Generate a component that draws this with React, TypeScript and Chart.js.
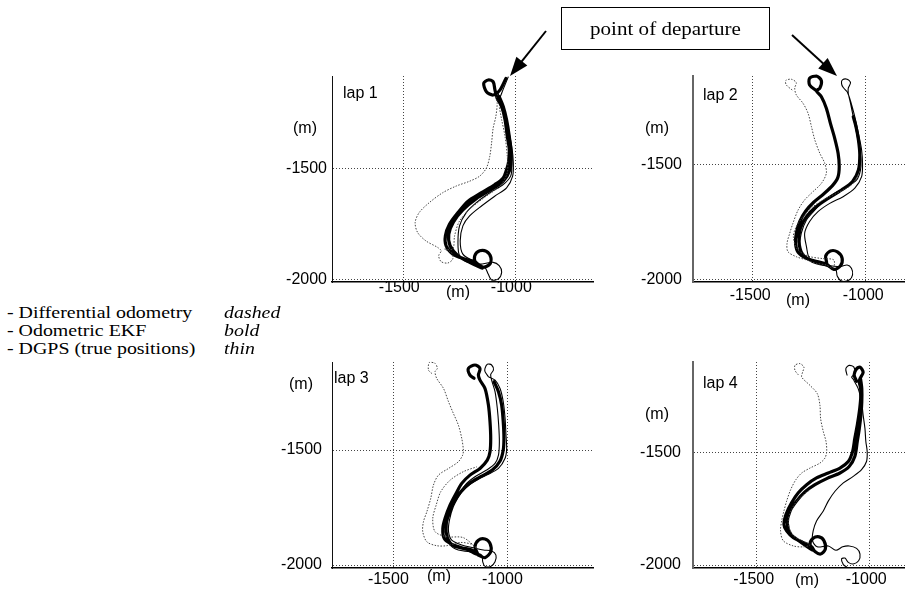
import React, { useEffect, useRef } from 'react';
import { Chart, registerables } from 'chart.js';

Chart.register(...registerables);

type Pt = [number, number];

// ---- labels / ticks ----
const xTickValues = [-1500, -1000];
const yTickValues = [-2000, -1500];
const seriesLabels = ['- Differential odometry', '- Odometric EKF', '- DGPS (true positions)'];
const seriesStyleWords = ['dashed', 'bold', 'thin'];
const lapTitles = ['lap 1', 'lap 2', 'lap 3', 'lap 4'];
const unitLabel = '(m)';
const departureLabel = 'point of departure';

// ---- lap 1 ----
const lap1Dashed: Pt[] = [
  [-1087, -1174], [-1081, -1204], [-1087, -1264], [-1099, -1317], [-1106, -1384], [-1114, -1444],
  [-1129, -1497], [-1159, -1534], [-1204, -1557], [-1264, -1579], [-1324, -1609], [-1384, -1654],
  [-1429, -1699], [-1447, -1744], [-1436, -1789], [-1399, -1827], [-1346, -1857], [-1331, -1872],
  [-1342, -1894], [-1331, -1921], [-1301, -1927], [-1279, -1909], [-1286, -1879], [-1316, -1864],
  [-1279, -1864], [-1271, -1804], [-1249, -1737], [-1196, -1677], [-1129, -1624], [-1069, -1579],
  [-1036, -1519], [-1036, -1444], [-1046, -1354], [-1061, -1279], [-1072, -1219],
];
const lap1Bold: Pt[] = [
  [-1042, -1092], [-1069, -1145], [-1099, -1167], [-1129, -1152], [-1141, -1114], [-1121, -1099],
  [-1099, -1107], [-1091, -1144], [-1081, -1182], [-1061, -1219], [-1046, -1279], [-1036, -1354],
  [-1027, -1414], [-1031, -1474], [-1039, -1504], [-1054, -1542], [-1091, -1572], [-1151, -1609],
  [-1211, -1647], [-1256, -1699], [-1294, -1752], [-1312, -1804], [-1309, -1849], [-1279, -1887],
  [-1226, -1909], [-1181, -1921], [-1147, -1947], [-1114, -1932], [-1109, -1902], [-1129, -1875],
  [-1159, -1872], [-1181, -1894], [-1177, -1927], [-1147, -1950], [-1204, -1924], [-1256, -1894],
  [-1291, -1849], [-1297, -1797], [-1276, -1741], [-1234, -1687], [-1174, -1636], [-1106, -1594],
  [-1054, -1557], [-1024, -1504], [-1018, -1444], [-1027, -1354], [-1039, -1279], [-1054, -1219],
  [-1072, -1174],
];
const lap1Thin: Pt[] = [
  [-1031, -1084], [-1061, -1159], [-1072, -1197], [-1054, -1249], [-1039, -1324], [-1024, -1399],
  [-1016, -1489], [-1021, -1534], [-1054, -1572], [-1114, -1609], [-1174, -1654], [-1219, -1699],
  [-1249, -1759], [-1256, -1834], [-1249, -1894], [-1211, -1924], [-1159, -1932], [-1099, -1924],
  [-1072, -1939], [-1061, -1969], [-1076, -1999], [-1106, -2004], [-1121, -1977], [-1136, -1947],
  [-1189, -1917], [-1234, -1887], [-1246, -1827], [-1234, -1759], [-1204, -1714], [-1151, -1669],
  [-1091, -1624], [-1039, -1587], [-1012, -1534], [-1009, -1474], [-1016, -1399], [-1031, -1324],
  [-1046, -1249], [-1061, -1197], [-1081, -1152],
];

// ---- lap 2 ----
const lap2Dashed: Pt[] = [
  [-1323, -1177], [-1349, -1155], [-1352, -1136], [-1327, -1130], [-1305, -1145], [-1312, -1169],
  [-1305, -1198], [-1275, -1235], [-1253, -1278], [-1238, -1336], [-1223, -1394], [-1201, -1452],
  [-1179, -1496], [-1172, -1539], [-1194, -1583], [-1231, -1619], [-1268, -1655], [-1297, -1699],
  [-1320, -1757], [-1334, -1800], [-1346, -1844], [-1342, -1880], [-1305, -1902], [-1260, -1916],
  [-1216, -1931], [-1172, -1938], [-1142, -1952], [-1139, -1916], [-1190, -1910], [-1250, -1900],
  [-1300, -1870], [-1318, -1815], [-1305, -1771], [-1275, -1728], [-1231, -1684], [-1172, -1648],
  [-1112, -1619], [-1061, -1590], [-1031, -1546],
];
const lap2Bold: Pt[] = [
  [-1216, -1180], [-1246, -1155], [-1246, -1126], [-1216, -1116], [-1194, -1136], [-1201, -1169],
  [-1216, -1180], [-1194, -1206], [-1172, -1256], [-1154, -1322], [-1135, -1387], [-1120, -1452],
  [-1115, -1510], [-1121, -1557], [-1145, -1593], [-1184, -1629], [-1228, -1665], [-1263, -1703],
  [-1290, -1749], [-1305, -1800], [-1308, -1847], [-1296, -1884], [-1260, -1909], [-1213, -1923],
  [-1172, -1934], [-1139, -1957], [-1110, -1942], [-1102, -1909], [-1123, -1881], [-1154, -1877],
  [-1175, -1899], [-1172, -1934], [-1231, -1923], [-1278, -1890], [-1293, -1836], [-1287, -1778],
  [-1260, -1728], [-1216, -1684], [-1164, -1648], [-1105, -1612], [-1056, -1575], [-1030, -1525],
  [-1024, -1459], [-1030, -1394], [-1041, -1336], [-1053, -1293],
];
const lap2Thin: Pt[] = [
  [-1080, -1184], [-1098, -1165], [-1105, -1148], [-1101, -1133], [-1080, -1130], [-1065, -1145],
  [-1075, -1169], [-1075, -1191], [-1065, -1235], [-1053, -1293], [-1038, -1365], [-1027, -1423],
  [-1019, -1481], [-1021, -1525], [-1038, -1568], [-1080, -1597], [-1135, -1626], [-1186, -1662],
  [-1223, -1699], [-1260, -1742], [-1283, -1800], [-1290, -1858], [-1275, -1902], [-1231, -1923],
  [-1172, -1938], [-1112, -1945], [-1080, -1938], [-1061, -1952], [-1056, -1981], [-1071, -2003],
  [-1105, -2008], [-1124, -1986], [-1130, -1960], [-1186, -1938], [-1246, -1909], [-1260, -1858],
  [-1268, -1800], [-1246, -1749], [-1209, -1706], [-1157, -1670], [-1098, -1641], [-1046, -1604],
  [-1016, -1554], [-1012, -1496], [-1016, -1438], [-1027, -1380], [-1041, -1314], [-1056, -1256],
  [-1071, -1206], [-1080, -1184],
];

// ---- lap 3 ----
const lap3Dashed: Pt[] = [
  [-1331, -1167], [-1346, -1152], [-1342, -1119], [-1317, -1123], [-1307, -1145], [-1317, -1159],
  [-1310, -1188], [-1280, -1232], [-1258, -1290], [-1237, -1340], [-1215, -1391], [-1200, -1449],
  [-1193, -1500], [-1196, -1522], [-1215, -1551], [-1258, -1580], [-1302, -1609], [-1324, -1652],
  [-1336, -1710], [-1353, -1768], [-1368, -1812], [-1371, -1855], [-1353, -1899], [-1310, -1916],
  [-1266, -1916], [-1207, -1902], [-1156, -1910], [-1134, -1928], [-1193, -1881], [-1266, -1877],
  [-1317, -1855], [-1327, -1797], [-1312, -1739], [-1292, -1681], [-1251, -1631], [-1193, -1594],
  [-1134, -1573],
];
const lap3Bold: Pt[] = [
  [-1146, -1188], [-1164, -1174], [-1171, -1145], [-1142, -1130], [-1120, -1145], [-1127, -1174],
  [-1120, -1196], [-1098, -1232], [-1083, -1304], [-1076, -1377], [-1073, -1449], [-1076, -1507],
  [-1088, -1544], [-1120, -1580], [-1164, -1609], [-1200, -1645], [-1225, -1689], [-1251, -1739],
  [-1273, -1797], [-1283, -1841], [-1277, -1884], [-1251, -1906], [-1200, -1925], [-1156, -1935],
  [-1127, -1957], [-1098, -1968], [-1073, -1942], [-1076, -1906], [-1098, -1887], [-1127, -1892],
  [-1142, -1921], [-1131, -1954], [-1178, -1931], [-1237, -1916], [-1263, -1881], [-1269, -1826],
  [-1257, -1776], [-1234, -1725], [-1204, -1681], [-1166, -1645], [-1117, -1616], [-1066, -1587],
  [-1032, -1548], [-1018, -1500], [-1015, -1449], [-1018, -1377], [-1025, -1304], [-1039, -1246],
  [-1058, -1203],
];
const lap3Thin: Pt[] = [
  [-1083, -1181], [-1098, -1159], [-1098, -1145], [-1088, -1127], [-1069, -1130], [-1061, -1152],
  [-1073, -1171], [-1069, -1196], [-1054, -1246], [-1044, -1319], [-1038, -1391], [-1035, -1464],
  [-1039, -1522], [-1054, -1558], [-1091, -1587], [-1142, -1616], [-1185, -1652], [-1210, -1696],
  [-1237, -1747], [-1254, -1805], [-1258, -1855], [-1244, -1892], [-1200, -1913], [-1149, -1925],
  [-1105, -1935], [-1069, -1939], [-1050, -1957], [-1054, -1986], [-1073, -2006], [-1098, -2006],
  [-1108, -1986], [-1112, -1957], [-1164, -1942], [-1215, -1935], [-1251, -1913], [-1266, -1870],
  [-1263, -1812], [-1244, -1761], [-1219, -1710], [-1185, -1667], [-1142, -1635], [-1091, -1609],
  [-1039, -1580], [-1010, -1536], [-1003, -1493], [-1006, -1435], [-1010, -1362], [-1018, -1290],
  [-1032, -1232], [-1054, -1196], [-1083, -1181],
];

// ---- lap 4 ----
const lap4Dashed: Pt[] = [
  [-1315, -1155], [-1330, -1135], [-1330, -1113], [-1308, -1105], [-1290, -1121], [-1296, -1143],
  [-1300, -1165], [-1263, -1202], [-1231, -1238], [-1219, -1290], [-1216, -1349], [-1204, -1407],
  [-1192, -1451], [-1189, -1496], [-1197, -1525], [-1219, -1547], [-1263, -1569], [-1300, -1591],
  [-1326, -1621], [-1349, -1665], [-1367, -1716], [-1379, -1760], [-1389, -1804], [-1394, -1848],
  [-1382, -1892], [-1337, -1915], [-1293, -1919], [-1263, -1910], [-1337, -1870], [-1360, -1812],
  [-1345, -1753], [-1311, -1704], [-1263, -1665],
];
const lap4Bold: Pt[] = [
  [-1056, -1184], [-1067, -1155], [-1056, -1128], [-1041, -1121], [-1027, -1143], [-1041, -1172],
  [-1044, -1187], [-1038, -1216], [-1038, -1260], [-1044, -1319], [-1053, -1378], [-1064, -1437],
  [-1074, -1496], [-1093, -1540], [-1130, -1569], [-1182, -1591], [-1234, -1613], [-1278, -1643],
  [-1315, -1679], [-1345, -1723], [-1370, -1775], [-1379, -1819], [-1367, -1848], [-1337, -1878],
  [-1293, -1900], [-1256, -1919], [-1241, -1940], [-1216, -1951], [-1195, -1929], [-1201, -1892],
  [-1222, -1875], [-1249, -1881], [-1263, -1907], [-1249, -1934], [-1308, -1895], [-1349, -1863],
  [-1364, -1812], [-1352, -1760], [-1323, -1716], [-1286, -1675], [-1241, -1643], [-1189, -1616],
  [-1130, -1591], [-1089, -1562], [-1064, -1518], [-1053, -1451], [-1044, -1393], [-1037, -1334],
  [-1033, -1275], [-1033, -1216], [-1038, -1175],
];
const lap4Thin: Pt[] = [
  [-1098, -1158], [-1104, -1128], [-1089, -1113], [-1068, -1121], [-1064, -1150], [-1078, -1165],
  [-1071, -1175], [-1049, -1216], [-1034, -1275], [-1027, -1334], [-1019, -1393], [-1015, -1451],
  [-1009, -1496], [-1012, -1540], [-1034, -1576], [-1071, -1606], [-1115, -1635], [-1152, -1672],
  [-1182, -1716], [-1204, -1760], [-1234, -1804], [-1249, -1848], [-1252, -1892], [-1231, -1919],
  [-1182, -1915], [-1148, -1934], [-1118, -1919], [-1089, -1915], [-1056, -1926], [-1041, -1951],
  [-1047, -1981], [-1071, -1995], [-1093, -1988], [-1108, -1969], [-1123, -1973], [-1115, -1998],
  [-1098, -2010],
];

// ---- per-panel axis ranges ----
const lapXRanges: Pt[] = [[-1818, -649], [-1762, -824], [-1769, -620], [-1783, -841]];
const lapYRanges: Pt[] = [[-2013, -1081], [-2012, -1116], [-2013, -1117], [-2013, -1098]];

const lapSeries: Pt[][][] = [
  [lap1Dashed, lap1Bold, lap1Thin],
  [lap2Dashed, lap2Bold, lap2Thin],
  [lap3Dashed, lap3Bold, lap3Thin],
  [lap4Dashed, lap4Bold, lap4Thin],
];

// ---- layout (page pixels) ----
interface PanelLayout {
  L: number; T: number; R: number; B: number;
  yPad: number; xPad: number; xOff: number;
  yBorderColor: string; yBorderWidth: number;
  title: [number, number];
  yUnit: [number, number];
  xUnit: [number, number];
}
const layouts: PanelLayout[] = [
  { L: 332, T: 76, R: 594, B: 282, yPad: 5, xPad: -4, xOff: -4, yBorderColor: '#111', yBorderWidth: 1, title: [343, 93], yUnit: [305, 128], xUnit: [458, 292] },
  { L: 693, T: 76, R: 905, B: 282, yPad: 11, xPad: 4, xOff: -2, yBorderColor: '#666', yBorderWidth: 2, title: [703, 95], yUnit: [657, 128], xUnit: [798, 300] },
  { L: 332, T: 362, R: 594, B: 568, yPad: 10, xPad: 2, xOff: -5, yBorderColor: '#111', yBorderWidth: 1, title: [334, 378], yUnit: [301, 384], xUnit: [439, 576] },
  { L: 693, T: 362, R: 905, B: 568, yPad: 12, xPad: 2, xOff: -3, yBorderColor: '#666', yBorderWidth: 2, title: [703, 383], yUnit: [657, 414], xUnit: [807, 580] },
];

const SANS = "'Liberation Sans', Arial, Helvetica, sans-serif";
const SERIF = "'Liberation Serif', 'Times New Roman', Times, serif";
const W_AXIS = 70;
const H_AXIS = 32;
const PAD_TOP = 12;

function toPoints(p: Pt[]) {
  return p.map(([x, y]) => ({ x, y }));
}

function Panel({ index }: { index: number }) {
  const ref = useRef<HTMLCanvasElement>(null);
  const lay = layouts[index];
  const cw = W_AXIS + (lay.R - lay.L);
  const ch = PAD_TOP + (lay.B - lay.T) + H_AXIS;

  useEffect(() => {
    const [dashed, bold, thin] = lapSeries[index];
    const chart = new Chart(ref.current!, {
      type: 'scatter',
      data: {
        datasets: [
          {
            label: seriesLabels[0], data: toPoints(dashed), showLine: true,
            borderColor: '#444', borderWidth: 1, borderDash: [1.5, 1.5], pointRadius: 0,
            tension: 0.3, clip: false as any, order: 0,
          },
          {
            label: seriesLabels[1], data: toPoints(bold), showLine: true,
            borderColor: '#000', borderWidth: 3.2, pointRadius: 0, borderJoinStyle: 'round',
            borderCapStyle: 'round', tension: 0.3, clip: false as any, order: 2,
          },
          {
            label: seriesLabels[2], data: toPoints(thin), showLine: true,
            borderColor: '#000', borderWidth: 1.1, pointRadius: 0,
            tension: 0.3, clip: false as any, order: 1,
          },
        ],
      },
      options: {
        animation: false,
        responsive: false,
        maintainAspectRatio: false,
        layout: { padding: { top: PAD_TOP, left: 0, right: 0, bottom: 0 } },
        plugins: { legend: { display: false }, tooltip: { enabled: false } },
        scales: {
          x: {
            type: 'linear',
            min: lapXRanges[index][0],
            max: lapXRanges[index][1],
            afterBuildTicks: (s: any) => { s.ticks = xTickValues.map((v) => ({ value: v })); },
            afterFit: (s: any) => { s.height = H_AXIS; s.paddingLeft = 0; s.paddingRight = 0; },
            ticks: {
              autoSkip: false, maxRotation: 0, padding: lay.xPad, labelOffset: lay.xOff,
              color: '#000', font: { family: SANS, size: 16 },
              callback: (v: any) => String(v),
            },
            grid: { color: '#444', lineWidth: 1, drawTicks: false },
            border: { display: true, color: '#000', width: 1.6, dash: [1, 2] },
          },
          y: {
            type: 'linear',
            min: lapYRanges[index][0],
            max: lapYRanges[index][1],
            afterBuildTicks: (s: any) => { s.ticks = yTickValues.map((v) => ({ value: v })); },
            afterFit: (s: any) => { s.width = W_AXIS; s.paddingTop = 0; s.paddingBottom = 0; },
            ticks: {
              autoSkip: false, padding: lay.yPad,
              color: '#000', font: { family: SANS, size: 16 },
              callback: (v: any) => String(v),
            },
            grid: { color: '#444', lineWidth: 1, drawTicks: false },
            border: { display: true, color: lay.yBorderColor, width: lay.yBorderWidth, dash: [1, 2] },
          },
        },
      } as any,
    });
    return () => chart.destroy();
  }, [index]);

  const textBase: React.CSSProperties = {
    position: 'absolute', fontFamily: SANS, fontSize: 16, lineHeight: '16px',
    whiteSpace: 'nowrap', color: '#000',
  };

  return (
    <>
      <canvas
        ref={ref}
        width={cw}
        height={ch}
        style={{ position: 'absolute', left: lay.L - W_AXIS, top: lay.T - PAD_TOP, width: cw, height: ch, display: 'block' }}
      />
      <span style={{ ...textBase, left: lay.title[0], top: lay.title[1] - 8 }}>{lapTitles[index]}</span>
      <span style={{ ...textBase, left: lay.yUnit[0], top: lay.yUnit[1], transform: 'translate(-50%,-50%)' }}>{unitLabel}</span>
      <span style={{ ...textBase, left: lay.xUnit[0], top: lay.xUnit[1], transform: 'translate(-50%,-50%)' }}>{unitLabel}</span>
    </>
  );
}

function arrowHead(tip: Pt, from: Pt, len: number, half: number): string {
  const dx = tip[0] - from[0];
  const dy = tip[1] - from[1];
  const d = Math.hypot(dx, dy);
  const ux = dx / d, uy = dy / d;
  const bx = tip[0] - ux * len, by = tip[1] - uy * len;
  const nx = -uy, ny = ux;
  return `${tip[0]},${tip[1]} ${bx + nx * half},${by + ny * half} ${bx - nx * half},${by - ny * half}`;
}

export default function App() {
  const legendText: React.CSSProperties = {
    position: 'absolute', fontFamily: SERIF, fontSize: 17, lineHeight: '18px',
    whiteSpace: 'nowrap', color: '#000', transform: 'scaleX(1.17)', transformOrigin: 'left center',
  };
  const leftFrom: Pt = [546, 31];
  const leftTip: Pt = [510, 76];
  const rightFrom: Pt = [792, 35];
  const rightTip: Pt = [837, 76];
  const lineEnd = (from: Pt, tip: Pt, len: number): Pt => {
    const dx = tip[0] - from[0], dy = tip[1] - from[1];
    const d = Math.hypot(dx, dy);
    return [tip[0] - (dx / d) * len, tip[1] - (dy / d) * len];
  };
  const le = lineEnd(leftFrom, leftTip, 15);
  const re = lineEnd(rightFrom, rightTip, 15);

  return (
    <div style={{ position: 'absolute', left: 0, top: 0, width: 905, height: 593, overflow: 'hidden', background: '#fff' }}>
      {layouts.map((_, i) => <Panel key={i} index={i} />)}

      {seriesLabels.map((s, i) => (
        <React.Fragment key={s}>
          <span style={{ ...legendText, left: 7, top: 304 + i * 18 }}>{s}</span>
          <span style={{ ...legendText, left: 224, top: 304 + i * 18, fontStyle: 'italic' }}>{seriesStyleWords[i]}</span>
        </React.Fragment>
      ))}

      <div style={{
        position: 'absolute', left: 561, top: 7, width: 209, height: 43, border: '1px solid #000',
        boxSizing: 'border-box', display: 'flex', alignItems: 'center', justifyContent: 'center',
      }}>
        <span style={{ fontFamily: SERIF, fontSize: 18, lineHeight: '18px', whiteSpace: 'nowrap', transform: 'scaleX(1.17)', display: 'inline-block' }}>
          {departureLabel}
        </span>
      </div>

      <svg width={905} height={593} style={{ position: 'absolute', left: 0, top: 0, pointerEvents: 'none' }}>
        <line x1={leftFrom[0]} y1={leftFrom[1]} x2={le[0]} y2={le[1]} stroke="#000" strokeWidth={2} />
        <polygon points={arrowHead(leftTip, leftFrom, 19, 7)} fill="#000" />
        <line x1={rightFrom[0]} y1={rightFrom[1]} x2={re[0]} y2={re[1]} stroke="#000" strokeWidth={2} />
        <polygon points={arrowHead(rightTip, rightFrom, 19, 7)} fill="#000" />
      </svg>
    </div>
  );
}
